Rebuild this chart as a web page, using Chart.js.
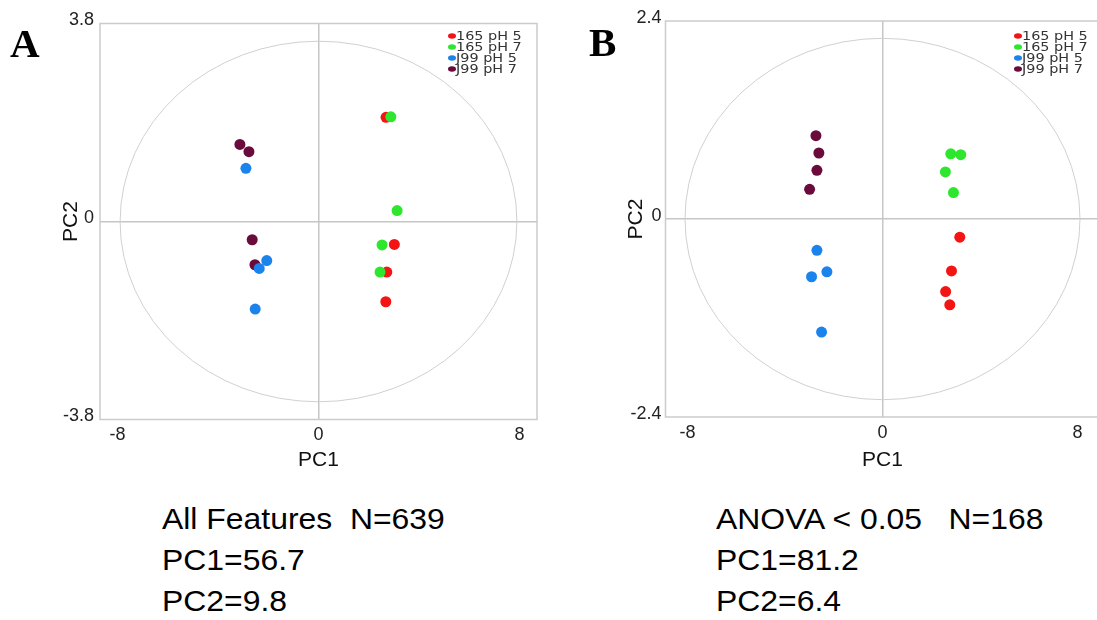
<!DOCTYPE html>
<html><head><meta charset="utf-8">
<script src="https://cdn.jsdelivr.net/npm/chart.js@4.4.1/dist/chart.umd.min.js"></script>
<style>
html,body{margin:0;padding:0;background:#fff;width:1097px;height:620px;overflow:hidden;position:relative;}
.cv{position:absolute;top:0;}
.lbl{position:absolute;font-family:"Liberation Serif","Times New Roman",serif;font-weight:bold;font-size:41px;line-height:40px;color:#000;}
.cap{position:absolute;font-family:"Liberation Sans",Arial,sans-serif;font-size:29px;line-height:41px;color:#000;transform:scaleX(1.1);transform-origin:0 0;white-space:pre;}
</style></head><body>
<canvas id="ca" class="cv" width="560" height="490" style="left:0;"></canvas>
<canvas id="cb" class="cv" width="545" height="490" style="left:560px;"></canvas>
<div class="lbl" style="left:10px;top:23px;">A</div>
<div class="lbl" style="left:589px;top:22px;">B</div>
<div class="cap" style="left:162px;top:499px;">All Features  N=639
PC1=56.7
PC2=9.8</div>
<div class="cap" style="left:716px;top:499px;">ANOVA &lt; 0.05   N=168
PC1=81.2
PC2=6.4</div>
<script>
// ---- data ----
const seriesLabels = ['165 pH 5', '165 pH 7', 'J99 pH 5', 'J99 pH 7'];
const seriesColors = ['#f51414', '#2fe62f', '#1b84ec', '#6a0b3b'];

// Panel A (All Features)
const a165pH5 = [{x:2.69,y:2.00},{x:3.02,y:-0.44},{x:2.72,y:-0.97},{x:2.68,y:-1.54}];
const a165pH7 = [{x:2.88,y:2.01},{x:3.13,y:0.21},{x:2.53,y:-0.45},{x:2.45,y:-0.97}];
const aJ99pH5 = [{x:-2.89,y:1.02},{x:-2.06,y:-0.75},{x:-2.36,y:-0.90},{x:-2.52,y:-1.68}];
const aJ99pH7 = [{x:-3.13,y:1.48},{x:-2.77,y:1.34},{x:-2.64,y:-0.35},{x:-2.53,y:-0.83}];
const aXTicks = [-8, 0, 8];
const aYTicks = [-3.8, 0, 3.8];

// Panel B (ANOVA < 0.05)
const b165pH5 = [{x:3.17,y:-0.22},{x:2.83,y:-0.63},{x:2.59,y:-0.88},{x:2.76,y:-1.04}];
const b165pH7 = [{x:2.80,y:0.79},{x:3.21,y:0.78},{x:2.58,y:0.57},{x:2.91,y:0.32}];
const bJ99pH5 = [{x:-2.69,y:-0.38},{x:-2.28,y:-0.64},{x:-2.91,y:-0.70},{x:-2.50,y:-1.37}];
const bJ99pH7 = [{x:-2.73,y:1.01},{x:-2.61,y:0.80},{x:-2.69,y:0.59},{x:-2.99,y:0.36}];
const bXTicks = [-8, 0, 8];
const bYTicks = [-2.4, 0, 2.4];

// ---- plugins ----
const framePlugin = {
  id: 'pcaFrame',
  beforeDatasetsDraw(chart, args, opts) {
    const {ctx, chartArea: ca, scales: {x, y}} = chart;
    ctx.save();
    const cx = x.getPixelForValue(0), cy = y.getPixelForValue(0);
    const rx = Math.abs(x.getPixelForValue(opts.rx) - cx);
    const ry = Math.abs(y.getPixelForValue(opts.ry) - cy);
    ctx.beginPath();
    ctx.ellipse(cx, cy, rx, ry, 0, 0, Math.PI * 2);
    ctx.strokeStyle = '#d0d0d0';
    ctx.lineWidth = 1;
    ctx.stroke();
    ctx.strokeStyle = '#cbcbcb';
    ctx.lineWidth = 1.5;
    ctx.strokeRect(ca.left, ca.top, ca.right - ca.left, ca.bottom - ca.top);
    ctx.restore();
  },
  afterDatasetsDraw(chart, args, opts) {
    const {ctx} = chart;
    ctx.save();
    ctx.font = '12px "DejaVu Sans", Verdana, sans-serif';
    ctx.textBaseline = 'middle';
    ctx.textAlign = 'left';
    seriesLabels.forEach((lab, i) => {
      const yy = opts.ly + i * opts.dy;
      ctx.fillStyle = seriesColors[i];
      ctx.beginPath();
      ctx.ellipse(opts.lx, yy, 4, 2.8, 0, 0, Math.PI * 2);
      ctx.fill();
      ctx.save();
      ctx.translate(opts.lx + 4, yy);
      ctx.scale(1.2, 1);
      ctx.fillStyle = '#333';
      ctx.fillText(lab, 0, 0.5);
      ctx.restore();
    });
    ctx.restore();
  }
};

function makeChart(id, data, xr, yr, xTicks, yTicks, geo) {
  const datasets = data.map((d, i) => ({
    label: seriesLabels[i],
    data: d,
    backgroundColor: seriesColors[i],
    borderColor: seriesColors[i],
    borderWidth: 0,
    pointRadius: 5.5,
    pointHoverRadius: 5.5,
    order: [4, 3, 1, 2][i]
  }));
  const tickFont = {family: '"Liberation Sans", Arial, sans-serif', size: 18};
  const titleFont = {family: '"Liberation Sans", Arial, sans-serif', size: 21};
  const gridColor = (c) => (c.tick && c.tick.value === 0) ? '#c6c6c6' : 'rgba(0,0,0,0)';
  return new Chart(document.getElementById(id), {
    type: 'scatter',
    data: {datasets},
    plugins: [framePlugin],
    options: {
      responsive: false,
      animation: false,
      events: [],
      layout: {padding: {left: 0, right: geo.padRight, top: geo.top, bottom: 0}},
      plugins: {
        legend: {display: false},
        tooltip: {enabled: false},
        pcaFrame: {rx: geo.rx, ry: geo.ry, lx: geo.lx, ly: geo.ly, dy: geo.dy}
      },
      scales: {
        x: {
          type: 'linear', min: -xr, max: xr,
          afterBuildTicks: (s) => { s.ticks = xTicks.map(v => ({value: v})); },
          afterFit: (s) => { s.height = geo.xh; },
          ticks: {font: tickFont, color: '#222', padding: 5, maxRotation: 0, autoSkip: false, callback: (v) => String(v)},
          grid: {color: gridColor, lineWidth: 1.5, drawTicks: false},
          border: {display: false},
          title: {display: true, text: 'PC1', font: titleFont, color: '#111', padding: {top: 0, bottom: 17}}
        },
        y: {
          type: 'linear', min: -yr, max: yr,
          afterBuildTicks: (s) => { s.ticks = yTicks.map(v => ({value: v})); },
          afterFit: (s) => { s.width = geo.yw; },
          ticks: {font: tickFont, color: '#222', padding: geo.ypad, labelOffset: -3, autoSkip: false, callback: (v) => String(v)},
          grid: {color: gridColor, lineWidth: 1.5, drawTicks: false},
          border: {display: false},
          title: {display: true, text: 'PC2', font: titleFont, color: '#111', padding: {top: geo.ytp, bottom: 0}}
        }
      }
    }
  });
}

makeChart('ca', [a165pH5, a165pH7, aJ99pH5, aJ99pH7], 8.7, 3.8, aXTicks, aYTicks,
  {padRight: 23, top: 23.5, xh: 70.5, yw: 100, ypad: 6, ytp: 59, rx: 7.9, ry: 3.46, lx: 452, ly: 36, dy: 11});
makeChart('cb', [b165pH5, b165pH7, bJ99pH5, bJ99pH7], 8.9, 2.4, bXTicks, bYTicks,
  {padRight: 5.1, top: 21, xh: 73, yw: 105.5, ypad: 4, ytp: 64, rx: 8.1, ry: 2.19, lx: 458, ly: 36, dy: 11});
</script>
</body></html>
